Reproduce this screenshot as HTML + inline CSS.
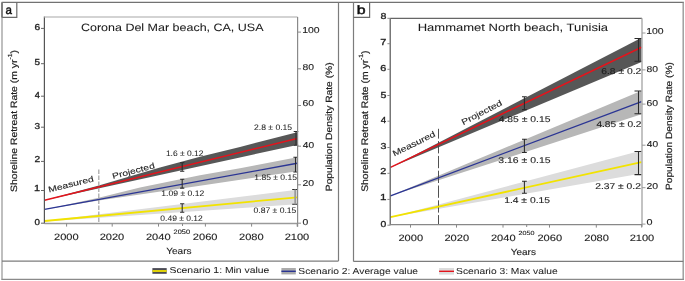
<!DOCTYPE html>
<html><head><meta charset="utf-8"><style>
html,body{margin:0;padding:0;background:#fff;width:685px;height:281px;overflow:hidden}
svg{display:block;filter:blur(0.3px)}
text{font-family:"Liberation Sans", sans-serif;stroke-width:0.12px;text-rendering:geometricPrecision} text.thin{stroke-width:0.05px} text.bold{stroke-width:0.45px} text.semi{stroke-width:0.3px} text.mid{stroke-width:0.2px}
</style></head><body>
<svg width="685" height="281" viewBox="0 0 685 281">
<rect width="685" height="281" fill="#fff"/>
<line x1="1.6" y1="2.4" x2="683.9" y2="2.4" stroke="#727272" stroke-width="1.3" />
<line x1="2.0" y1="2.4" x2="2.0" y2="279.9" stroke="#a4a4a4" stroke-width="1.4" />
<line x1="683.2" y1="2.4" x2="683.2" y2="279.9" stroke="#989898" stroke-width="1.4" />
<line x1="1.6" y1="279.3" x2="683.9" y2="279.3" stroke="#8a8a8a" stroke-width="1.3" />
<line x1="338.5" y1="2.4" x2="338.5" y2="261.1" stroke="#7c7c7c" stroke-width="1.2" />
<line x1="2.0" y1="261.2" x2="338.5" y2="261.2" stroke="#7c7c7c" stroke-width="1.2" />
<line x1="353.5" y1="2.4" x2="353.5" y2="261.4" stroke="#7c7c7c" stroke-width="1.2" />
<line x1="353.5" y1="261.4" x2="683.3" y2="261.4" stroke="#7c7c7c" stroke-width="1.2" />
<path d="M2.2,17.4H16.8V2.4" fill="none" stroke="#6a6a6a" stroke-width="1.2"/>
<path d="M353.5,17.3H369.6V2.4" fill="none" stroke="#6a6a6a" stroke-width="1.2"/>
<line x1="2.0" y1="2.4" x2="2.0" y2="17.4" stroke="#606060" stroke-width="1.3" />
<text x="5.44" y="14.00" font-size="12.22" fill="#111" stroke="#111" text-anchor="start" textLength="6.42" lengthAdjust="spacingAndGlyphs" class="bold">a</text>
<text x="356.89" y="13.90" font-size="12.05" fill="#111" stroke="#111" text-anchor="start" textLength="8.85" lengthAdjust="spacingAndGlyphs" class="bold">b</text>
<polygon points="44.5,200.2 98.8,185.6 160,167.6 200,156.7 240,146.9 297.2,132.3 297.2,144.9" fill="#575757" />
<polygon points="44.5,209.4 98.7,197.8 140,187.6 200,175.3 240,168.3 297.2,157.2 297.2,171.2 200,185.8 98.7,200.5" fill="#b7b7b7" />
<polygon points="44.5,221 297.2,189.8 297.2,204.2 44.5,221.6" fill="#dcdcdc" />
<line x1="98.8" y1="169.4" x2="98.8" y2="223.2" stroke="#a8a8a8" stroke-width="1.3" stroke-dasharray="4.5 1.5"/>
<line x1="44.5" y1="221" x2="297.2" y2="197.3" stroke="#f2e300" stroke-width="1.8" />
<line x1="44.5" y1="209.4" x2="297.2" y2="163.3" stroke="#2b3594" stroke-width="1.4" />
<line x1="44.5" y1="200.2" x2="297.2" y2="138.5" stroke="#e3141c" stroke-width="1.5" />
<path d="M180.1,162.8H184.29999999999998M182.2,162.8V171.3M180.1,171.3H184.29999999999998" stroke="#2a2a2a" stroke-width="1.05" fill="none"/>
<path d="M180.1,179.3H184.29999999999998M182.2,179.3V188.1M180.1,188.1H184.29999999999998" stroke="#2a2a2a" stroke-width="1.05" fill="none"/>
<path d="M180.1,203.7H184.29999999999998M182.2,203.7V212.2M180.1,212.2H184.29999999999998" stroke="#2a2a2a" stroke-width="1.05" fill="none"/>
<path d="M293.7,131.5H298.3M296.0,131.5V145.3M293.7,145.3H298.3" stroke="#2a2a2a" stroke-width="1.05" fill="none"/>
<path d="M293.4,157.3H297.6M295.5,157.3V171.9M293.4,171.9H297.6" stroke="#2a2a2a" stroke-width="1.05" fill="none"/>
<path d="M292.2,189.5H297.6M292.2,204.3H297.6" stroke="#2a2a2a" stroke-width="1.05" fill="none"/>
<line x1="295.2" y1="189.5" x2="295.2" y2="204.3" stroke="#9a9a9a" stroke-width="1.8" />
<line x1="44.4" y1="16.4" x2="44.4" y2="223.6" stroke="#555" stroke-width="1.2" />
<line x1="44.4" y1="16.9" x2="297.6" y2="16.9" stroke="#c4c4c4" stroke-width="1.5" />
<line x1="297.6" y1="16.9" x2="297.6" y2="226.8" stroke="#8a8a8a" stroke-width="1.2" />
<line x1="44.4" y1="223.5" x2="297.6" y2="223.5" stroke="#9a9a9a" stroke-width="1.3" />
<line x1="41" y1="28.4" x2="44.4" y2="28.4" stroke="#666" stroke-width="1" />
<text x="34.49" y="29.80" font-size="8.57" fill="#1e1e1e" stroke="#1e1e1e" text-anchor="start" textLength="5.68" lengthAdjust="spacingAndGlyphs" class="semi">6</text>
<line x1="41" y1="63.7" x2="44.4" y2="63.7" stroke="#666" stroke-width="1" />
<text x="34.60" y="65.10" font-size="8.70" fill="#1e1e1e" stroke="#1e1e1e" text-anchor="start" textLength="5.56" lengthAdjust="spacingAndGlyphs" class="semi">5</text>
<line x1="41" y1="96.2" x2="44.4" y2="96.2" stroke="#666" stroke-width="1" />
<text x="34.82" y="98.00" font-size="8.70" fill="#1e1e1e" stroke="#1e1e1e" text-anchor="start" textLength="5.13" lengthAdjust="spacingAndGlyphs" class="semi">4</text>
<line x1="41" y1="127.2" x2="44.4" y2="127.2" stroke="#666" stroke-width="1" />
<text x="34.60" y="128.50" font-size="8.57" fill="#1e1e1e" stroke="#1e1e1e" text-anchor="start" textLength="5.56" lengthAdjust="spacingAndGlyphs" class="semi">3</text>
<line x1="41" y1="161.4" x2="44.4" y2="161.4" stroke="#666" stroke-width="1" />
<text x="34.49" y="162.10" font-size="8.57" fill="#1e1e1e" stroke="#1e1e1e" text-anchor="start" textLength="5.68" lengthAdjust="spacingAndGlyphs" class="semi">2</text>
<line x1="41" y1="190.5" x2="44.4" y2="190.5" stroke="#666" stroke-width="1" />
<text x="34.13" y="190.80" font-size="8.70" fill="#1e1e1e" stroke="#1e1e1e" text-anchor="start" textLength="6.08" lengthAdjust="spacingAndGlyphs" class="semi">1</text>
<line x1="41" y1="223.2" x2="44.4" y2="223.2" stroke="#666" stroke-width="1" />
<text x="34.61" y="224.60" font-size="8.57" fill="#1e1e1e" stroke="#1e1e1e" text-anchor="start" textLength="5.45" lengthAdjust="spacingAndGlyphs" class="semi">0</text>
<line x1="297.6" y1="32.1" x2="301" y2="32.1" stroke="#8a8a8a" stroke-width="1" />
<text x="302.16" y="32.60" font-size="8.57" fill="#1e1e1e" stroke="#1e1e1e" text-anchor="start" textLength="17.44" lengthAdjust="spacingAndGlyphs" >100</text>
<line x1="297.6" y1="68.8" x2="301" y2="68.8" stroke="#8a8a8a" stroke-width="1" />
<text x="302.58" y="69.70" font-size="8.57" fill="#1e1e1e" stroke="#1e1e1e" text-anchor="start" textLength="11.56" lengthAdjust="spacingAndGlyphs" >80</text>
<line x1="297.6" y1="105.5" x2="301" y2="105.5" stroke="#8a8a8a" stroke-width="1" />
<text x="302.48" y="106.00" font-size="8.57" fill="#1e1e1e" stroke="#1e1e1e" text-anchor="start" textLength="11.67" lengthAdjust="spacingAndGlyphs" >60</text>
<line x1="297.6" y1="146.2" x2="301" y2="146.2" stroke="#8a8a8a" stroke-width="1" />
<text x="302.80" y="147.60" font-size="8.57" fill="#1e1e1e" stroke="#1e1e1e" text-anchor="start" textLength="11.34" lengthAdjust="spacingAndGlyphs" >40</text>
<line x1="297.6" y1="184.8" x2="301" y2="184.8" stroke="#8a8a8a" stroke-width="1" />
<text x="302.48" y="185.70" font-size="8.57" fill="#1e1e1e" stroke="#1e1e1e" text-anchor="start" textLength="11.67" lengthAdjust="spacingAndGlyphs" >20</text>
<line x1="297.6" y1="223.2" x2="301" y2="223.2" stroke="#8a8a8a" stroke-width="1" />
<text x="302.58" y="225.00" font-size="8.57" fill="#1e1e1e" stroke="#1e1e1e" text-anchor="start" textLength="5.79" lengthAdjust="spacingAndGlyphs" >0</text>
<line x1="66.6" y1="223.5" x2="66.6" y2="226.6" stroke="#888" stroke-width="1" />
<text x="54.05" y="239.60" font-size="9.14" fill="#1e1e1e" stroke="#1e1e1e" text-anchor="start" textLength="24.65" lengthAdjust="spacingAndGlyphs" >2000</text>
<line x1="112.2" y1="223.5" x2="112.2" y2="226.6" stroke="#888" stroke-width="1" />
<text x="99.65" y="239.60" font-size="9.14" fill="#1e1e1e" stroke="#1e1e1e" text-anchor="start" textLength="24.65" lengthAdjust="spacingAndGlyphs" >2020</text>
<line x1="158.5" y1="223.5" x2="158.5" y2="226.6" stroke="#888" stroke-width="1" />
<text x="145.95" y="239.60" font-size="9.14" fill="#1e1e1e" stroke="#1e1e1e" text-anchor="start" textLength="24.65" lengthAdjust="spacingAndGlyphs" >2040</text>
<line x1="205.4" y1="223.5" x2="205.4" y2="226.6" stroke="#888" stroke-width="1" />
<text x="192.85" y="239.60" font-size="9.14" fill="#1e1e1e" stroke="#1e1e1e" text-anchor="start" textLength="24.65" lengthAdjust="spacingAndGlyphs" >2060</text>
<line x1="251.6" y1="223.5" x2="251.6" y2="226.6" stroke="#888" stroke-width="1" />
<text x="239.05" y="239.60" font-size="9.14" fill="#1e1e1e" stroke="#1e1e1e" text-anchor="start" textLength="24.65" lengthAdjust="spacingAndGlyphs" >2080</text>
<line x1="297.2" y1="223.5" x2="297.2" y2="226.6" stroke="#888" stroke-width="1" />
<text x="284.65" y="239.60" font-size="9.14" fill="#1e1e1e" stroke="#1e1e1e" text-anchor="start" textLength="24.65" lengthAdjust="spacingAndGlyphs" >2100</text>
<line x1="182.5" y1="223.5" x2="182.5" y2="226" stroke="#888" stroke-width="1" />
<text x="173.63" y="233.70" font-size="6.43" fill="#1e1e1e" stroke="#1e1e1e" text-anchor="start" textLength="16.40" lengthAdjust="spacingAndGlyphs" >2050</text>
<text x="166.20" y="253.70" font-size="8.99" fill="#1e1e1e" stroke="#1e1e1e" text-anchor="start" textLength="25.41" lengthAdjust="spacingAndGlyphs" >Years</text>
<text x="80.98" y="30.80" font-size="10.68" fill="#1a1a1a" stroke="#1a1a1a" text-anchor="start" textLength="182.51" lengthAdjust="spacingAndGlyphs" class="thin">Corona Del Mar beach, CA, USA</text>
<text x="165.92" y="155.90" font-size="8.00" fill="#1e1e1e" stroke="#1e1e1e" text-anchor="start" textLength="37.61" lengthAdjust="spacingAndGlyphs" class="thin">1.6 &#177; 0.12</text>
<text x="161.31" y="195.50" font-size="8.00" fill="#1e1e1e" stroke="#1e1e1e" text-anchor="start" textLength="42.89" lengthAdjust="spacingAndGlyphs" class="thin">1.09 &#177; 0.12</text>
<text x="160.36" y="220.80" font-size="8.00" fill="#1e1e1e" stroke="#1e1e1e" text-anchor="start" textLength="42.34" lengthAdjust="spacingAndGlyphs" class="thin">0.49 &#177; 0.12</text>
<text x="253.97" y="129.60" font-size="8.00" fill="#1e1e1e" stroke="#1e1e1e" text-anchor="start" textLength="38.18" lengthAdjust="spacingAndGlyphs" class="thin">2.8 &#177; 0.15</text>
<text x="254.32" y="179.90" font-size="8.00" fill="#1e1e1e" stroke="#1e1e1e" text-anchor="start" textLength="42.69" lengthAdjust="spacingAndGlyphs" class="thin">1.85 &#177; 0.15</text>
<text x="253.56" y="212.90" font-size="8.00" fill="#1e1e1e" stroke="#1e1e1e" text-anchor="start" textLength="42.75" lengthAdjust="spacingAndGlyphs" class="thin">0.87 &#177; 0.15</text>
<text x="-0.84" y="0" font-size="8.08" fill="#1e1e1e" stroke="#1e1e1e" textLength="46.54" lengthAdjust="spacingAndGlyphs" class="" transform="translate(49.8,192.3) rotate(-13.9)">Measured</text>
<text x="-0.82" y="0" font-size="8.08" fill="#1e1e1e" stroke="#1e1e1e" textLength="43.49" lengthAdjust="spacingAndGlyphs" class="" transform="translate(113.9,178.9) rotate(-14.7)">Projected</text>
<text x="-0.46" y="0" font-size="9.14" fill="#1e1e1e" stroke="#1e1e1e" class="mid" transform="translate(16.5,191.4) rotate(-90) scale(1.1399,1)">Shoreline Retreat Rate (m yr<tspan font-size="5.94" dy="-4.57">-1</tspan><tspan dy="4.57">)</tspan></text>
<text x="-0.82" y="0" font-size="9.00" fill="#1e1e1e" stroke="#1e1e1e" textLength="128.85" lengthAdjust="spacingAndGlyphs" class="mid" transform="translate(331.6,190.4) rotate(-90)">Population Density Rate (%)</text>
<polygon points="390.5,167.4 641.5,37.8 641.5,62" fill="#575757" />
<polygon points="390.5,195.8 641.5,90.7 641.5,114.2" fill="#b7b7b7" />
<polygon points="390.5,217.2 641.5,150.6 641.5,173.5" fill="#dcdcdc" />
<line x1="438.5" y1="128.8" x2="438.5" y2="224.7" stroke="#484848" stroke-width="0.95" stroke-dasharray="12.3 2.5" stroke-dashoffset="2.5"/>
<line x1="390.5" y1="217.2" x2="641.5" y2="162.2" stroke="#f2e300" stroke-width="1.8" />
<line x1="390.5" y1="195.8" x2="641.5" y2="101.7" stroke="#2b3594" stroke-width="1.4" />
<line x1="390.5" y1="167.4" x2="641.5" y2="47.2" stroke="#e3141c" stroke-width="1.5" />
<path d="M522.0,96.8H526.8M524.4,96.8V109.6M522.0,109.6H526.8" stroke="#2a2a2a" stroke-width="1.05" fill="none"/>
<path d="M522.0,139.2H526.8M524.4,139.2V152.4M522.0,152.4H526.8" stroke="#2a2a2a" stroke-width="1.05" fill="none"/>
<path d="M522.0,181.2H526.8M524.4,181.2V193.2M522.0,193.2H526.8" stroke="#2a2a2a" stroke-width="1.05" fill="none"/>
<path d="M634.5,38.5H641.6M638.5,38.5V61.3M634.5,61.3H641.6" stroke="#2a2a2a" stroke-width="1.05" fill="none"/>
<path d="M634.5,91H641.6M638.5,91V113.8M634.5,113.8H641.6" stroke="#2a2a2a" stroke-width="1.05" fill="none"/>
<path d="M634.5,151.4H641.6M638.5,151.4V174.6M634.5,174.6H641.6" stroke="#2a2a2a" stroke-width="1.05" fill="none"/>
<line x1="390.2" y1="18.3" x2="390.2" y2="225.2" stroke="#555" stroke-width="1.2" />
<line x1="390.2" y1="18.3" x2="642" y2="18.3" stroke="#666" stroke-width="1.2" />
<line x1="642" y1="18.3" x2="642" y2="226.7" stroke="#aaa" stroke-width="1.4" />
<line x1="390.2" y1="224.7" x2="642" y2="224.7" stroke="#888" stroke-width="1.2" />
<line x1="387.4" y1="18.3" x2="390.2" y2="18.3" stroke="#8a8a8a" stroke-width="1" />
<text x="380.47" y="19.10" font-size="8.57" fill="#1e1e1e" stroke="#1e1e1e" text-anchor="start" textLength="5.92" lengthAdjust="spacingAndGlyphs" class="semi">8</text>
<line x1="387.4" y1="43.7" x2="390.2" y2="43.7" stroke="#8a8a8a" stroke-width="1" />
<text x="380.36" y="44.60" font-size="8.70" fill="#1e1e1e" stroke="#1e1e1e" text-anchor="start" textLength="6.05" lengthAdjust="spacingAndGlyphs" class="semi">7</text>
<line x1="387.4" y1="69.3" x2="390.2" y2="69.3" stroke="#8a8a8a" stroke-width="1" />
<text x="380.36" y="71.00" font-size="8.57" fill="#1e1e1e" stroke="#1e1e1e" text-anchor="start" textLength="6.05" lengthAdjust="spacingAndGlyphs" class="semi">6</text>
<line x1="387.4" y1="95.5" x2="390.2" y2="95.5" stroke="#8a8a8a" stroke-width="1" />
<text x="380.47" y="97.70" font-size="8.70" fill="#1e1e1e" stroke="#1e1e1e" text-anchor="start" textLength="5.92" lengthAdjust="spacingAndGlyphs" class="semi">5</text>
<line x1="387.4" y1="121.2" x2="390.2" y2="121.2" stroke="#8a8a8a" stroke-width="1" />
<text x="380.70" y="123.20" font-size="8.70" fill="#1e1e1e" stroke="#1e1e1e" text-anchor="start" textLength="5.45" lengthAdjust="spacingAndGlyphs" class="semi">4</text>
<line x1="387.4" y1="147.5" x2="390.2" y2="147.5" stroke="#8a8a8a" stroke-width="1" />
<text x="380.47" y="148.70" font-size="8.57" fill="#1e1e1e" stroke="#1e1e1e" text-anchor="start" textLength="5.92" lengthAdjust="spacingAndGlyphs" class="semi">3</text>
<line x1="387.4" y1="173.3" x2="390.2" y2="173.3" stroke="#8a8a8a" stroke-width="1" />
<text x="380.36" y="173.90" font-size="8.57" fill="#1e1e1e" stroke="#1e1e1e" text-anchor="start" textLength="6.05" lengthAdjust="spacingAndGlyphs" class="semi">2</text>
<line x1="387.4" y1="199.4" x2="390.2" y2="199.4" stroke="#8a8a8a" stroke-width="1" />
<text x="379.97" y="199.90" font-size="8.70" fill="#1e1e1e" stroke="#1e1e1e" text-anchor="start" textLength="6.47" lengthAdjust="spacingAndGlyphs" class="semi">1</text>
<line x1="387.4" y1="225.2" x2="390.2" y2="225.2" stroke="#8a8a8a" stroke-width="1" />
<text x="380.48" y="226.70" font-size="8.57" fill="#1e1e1e" stroke="#1e1e1e" text-anchor="start" textLength="5.79" lengthAdjust="spacingAndGlyphs" class="semi">0</text>
<line x1="642" y1="33" x2="645.5" y2="33" stroke="#999" stroke-width="1" />
<text x="646.16" y="33.70" font-size="8.57" fill="#1e1e1e" stroke="#1e1e1e" text-anchor="start" textLength="17.44" lengthAdjust="spacingAndGlyphs" >100</text>
<line x1="642" y1="69.9" x2="645.5" y2="69.9" stroke="#999" stroke-width="1" />
<text x="646.58" y="71.50" font-size="8.57" fill="#1e1e1e" stroke="#1e1e1e" text-anchor="start" textLength="11.56" lengthAdjust="spacingAndGlyphs" >80</text>
<line x1="642" y1="104.1" x2="645.5" y2="104.1" stroke="#999" stroke-width="1" />
<text x="646.48" y="105.50" font-size="8.57" fill="#1e1e1e" stroke="#1e1e1e" text-anchor="start" textLength="11.67" lengthAdjust="spacingAndGlyphs" >60</text>
<line x1="642" y1="145.2" x2="645.5" y2="145.2" stroke="#999" stroke-width="1" />
<text x="646.80" y="146.80" font-size="8.57" fill="#1e1e1e" stroke="#1e1e1e" text-anchor="start" textLength="11.34" lengthAdjust="spacingAndGlyphs" >40</text>
<line x1="642" y1="187.7" x2="645.5" y2="187.7" stroke="#999" stroke-width="1" />
<text x="646.48" y="189.00" font-size="8.57" fill="#1e1e1e" stroke="#1e1e1e" text-anchor="start" textLength="11.67" lengthAdjust="spacingAndGlyphs" >20</text>
<line x1="642" y1="224.1" x2="645.5" y2="224.1" stroke="#999" stroke-width="1" />
<text x="646.57" y="225.10" font-size="8.57" fill="#1e1e1e" stroke="#1e1e1e" text-anchor="start" textLength="6.03" lengthAdjust="spacingAndGlyphs" >0</text>
<line x1="410.5" y1="224.7" x2="410.5" y2="227.6" stroke="#888" stroke-width="1" />
<text x="398.45" y="241.00" font-size="9.14" fill="#1e1e1e" stroke="#1e1e1e" text-anchor="start" textLength="24.65" lengthAdjust="spacingAndGlyphs" >2000</text>
<line x1="456.5" y1="224.7" x2="456.5" y2="227.6" stroke="#888" stroke-width="1" />
<text x="444.45" y="241.00" font-size="9.14" fill="#1e1e1e" stroke="#1e1e1e" text-anchor="start" textLength="24.65" lengthAdjust="spacingAndGlyphs" >2020</text>
<line x1="503.0" y1="224.7" x2="503.0" y2="227.6" stroke="#888" stroke-width="1" />
<text x="490.95" y="241.00" font-size="9.14" fill="#1e1e1e" stroke="#1e1e1e" text-anchor="start" textLength="24.65" lengthAdjust="spacingAndGlyphs" >2040</text>
<line x1="549.5" y1="224.7" x2="549.5" y2="227.6" stroke="#888" stroke-width="1" />
<text x="537.45" y="241.00" font-size="9.14" fill="#1e1e1e" stroke="#1e1e1e" text-anchor="start" textLength="24.65" lengthAdjust="spacingAndGlyphs" >2060</text>
<line x1="596.3" y1="224.7" x2="596.3" y2="227.6" stroke="#888" stroke-width="1" />
<text x="584.25" y="241.00" font-size="9.14" fill="#1e1e1e" stroke="#1e1e1e" text-anchor="start" textLength="24.65" lengthAdjust="spacingAndGlyphs" >2080</text>
<line x1="641.7" y1="224.7" x2="641.7" y2="227.6" stroke="#888" stroke-width="1" />
<text x="629.65" y="241.00" font-size="9.14" fill="#1e1e1e" stroke="#1e1e1e" text-anchor="start" textLength="24.65" lengthAdjust="spacingAndGlyphs" >2100</text>
<line x1="526.7" y1="224.7" x2="526.7" y2="227" stroke="#888" stroke-width="1" />
<text x="518.64" y="235.00" font-size="6.14" fill="#1e1e1e" stroke="#1e1e1e" text-anchor="start" textLength="15.88" lengthAdjust="spacingAndGlyphs" >2050</text>
<text x="510.70" y="255.00" font-size="8.84" fill="#1e1e1e" stroke="#1e1e1e" text-anchor="start" textLength="25.31" lengthAdjust="spacingAndGlyphs" >Years</text>
<text x="417.66" y="31.00" font-size="10.68" fill="#1a1a1a" stroke="#1a1a1a" text-anchor="start" textLength="190.41" lengthAdjust="spacingAndGlyphs" class="thin">Hammamet North beach, Tunisia</text>
<text x="498.69" y="121.80" font-size="8.43" fill="#1e1e1e" stroke="#1e1e1e" text-anchor="start" textLength="51.80" lengthAdjust="spacingAndGlyphs" >4.85 &#177; 0.15</text>
<text x="498.38" y="162.70" font-size="8.43" fill="#1e1e1e" stroke="#1e1e1e" text-anchor="start" textLength="52.11" lengthAdjust="spacingAndGlyphs" >3.16 &#177; 0.15</text>
<text x="504.17" y="203.10" font-size="8.43" fill="#1e1e1e" stroke="#1e1e1e" text-anchor="start" textLength="45.85" lengthAdjust="spacingAndGlyphs" >1.4 &#177; 0.15</text>
<text x="601.28" y="73.80" font-size="8.43" fill="#1e1e1e" stroke="#1e1e1e" text-anchor="start" textLength="40.08" lengthAdjust="spacingAndGlyphs" >6.8 &#177; 0.2</text>
<text x="596.40" y="127.20" font-size="8.43" fill="#1e1e1e" stroke="#1e1e1e" text-anchor="start" textLength="45.12" lengthAdjust="spacingAndGlyphs" >4.85 &#177; 0.2</text>
<text x="595.19" y="189.00" font-size="8.43" fill="#1e1e1e" stroke="#1e1e1e" text-anchor="start" textLength="45.74" lengthAdjust="spacingAndGlyphs" >2.37 &#177; 0.2</text>
<text x="-0.84" y="0" font-size="8.22" fill="#1e1e1e" stroke="#1e1e1e" textLength="46.74" lengthAdjust="spacingAndGlyphs" class="" transform="translate(394.9,156.2) rotate(-26.2)">Measured</text>
<text x="-0.84" y="0" font-size="8.22" fill="#1e1e1e" stroke="#1e1e1e" textLength="44.52" lengthAdjust="spacingAndGlyphs" class="" transform="translate(463.9,124.8) rotate(-27.3)">Projected</text>
<text x="-0.47" y="0" font-size="9.43" fill="#1e1e1e" stroke="#1e1e1e" class="mid" transform="translate(367.8,191.3) rotate(-90) scale(1.0999,1)">Shoreline Retreat Rate (m yr<tspan font-size="6.13" dy="-4.71">-1</tspan><tspan dy="4.71">)</tspan></text>
<text x="-0.81" y="0" font-size="9.00" fill="#1e1e1e" stroke="#1e1e1e" textLength="127.84" lengthAdjust="spacingAndGlyphs" class="mid" transform="translate(671.6,189.2) rotate(-90)">Population Density Rate (%)</text>
<rect x="152.4" y="268.1" width="14.3" height="5.7" fill="#4b4b55"/>
<line x1="152.4" y1="271" x2="166.7" y2="271" stroke="#f2e300" stroke-width="1.8" />
<text x="169.48" y="273.00" font-size="8.57" fill="#1e1e1e" stroke="#1e1e1e" text-anchor="start" textLength="99.90" lengthAdjust="spacingAndGlyphs" class="thin">Scenario 1: Min value</text>
<rect x="281.4" y="268" width="14.4" height="6.4" fill="#ababab"/>
<line x1="281.4" y1="271.3" x2="295.8" y2="271.3" stroke="#2b3594" stroke-width="1.4" />
<text x="298.39" y="273.90" font-size="8.71" fill="#1e1e1e" stroke="#1e1e1e" text-anchor="start" textLength="119.69" lengthAdjust="spacingAndGlyphs" class="thin">Scenario 2: Average value</text>
<rect x="439.1" y="268" width="14.9" height="6.6" fill="#dcdcdc"/>
<line x1="439.1" y1="271.3" x2="454" y2="271.3" stroke="#e3141c" stroke-width="1.4" />
<text x="456.09" y="273.90" font-size="8.71" fill="#1e1e1e" stroke="#1e1e1e" text-anchor="start" textLength="101.57" lengthAdjust="spacingAndGlyphs" class="thin">Scenario 3: Max value</text>
</svg>
</body></html>
